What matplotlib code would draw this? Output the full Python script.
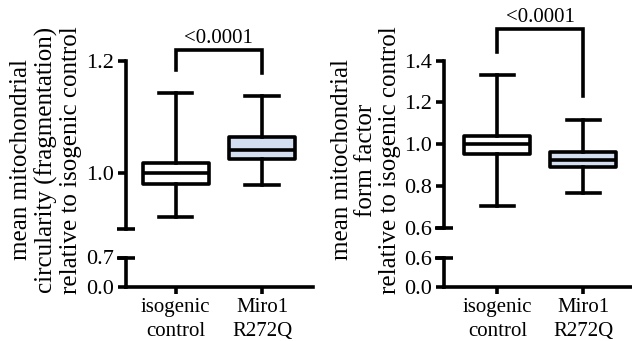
import matplotlib
matplotlib.use("Agg")
import matplotlib.pyplot as plt

plt.rcParams['font.family'] = ['Liberation Serif', 'DejaVu Serif']

# ---------------- data ----------------
categories = ["isogenic\ncontrol", "Miro1\nR272Q"]
positions = [1, 2]
box_colors = ["white", "#d3def0"]
p_text = "<0.0001"

# Panel A: mean mitochondrial circularity
circ_whislo = [0.922, 0.978]
circ_q1 = [0.981, 1.025]
circ_med = [1.000, 1.041]
circ_q3 = [1.018, 1.065]
circ_whishi = [1.142, 1.137]
circ_bracket = [1.184, 1.219, 1.219, 1.179]
circ_top_ticks = [1.0, 1.2]
circ_top_lim = [0.9, 1.2]
circ_bot_ticks = [0.0, 0.7]
circ_bot_lim = [0.0, 0.7]
circ_ylabel = "mean mitochondrial\ncircularity (fragmentation)\nrelative to isogenic control"

# Panel B: mean mitochondrial form factor
ff_whislo = [0.706, 0.766]
ff_q1 = [0.953, 0.892]
ff_med = [1.000, 0.927]
ff_q3 = [1.038, 0.963]
ff_whishi = [1.333, 1.115]
ff_bracket = [1.442, 1.551, 1.551, 1.229]
ff_top_ticks = [0.6, 0.8, 1.0, 1.2, 1.4]
ff_top_lim = [0.6, 1.4]
ff_bot_ticks = [0.0, 0.6]
ff_bot_lim = [0.0, 0.6]
ff_ylabel = "mean mitochondrial\nform factor\nrelative to isogenic control"

W, H = 632, 341
DPI = 100
fig = plt.figure(figsize=(W / DPI, H / DPI), dpi=DPI)

LW = 2.6
FS = 15
TFS = 16


def px_axes(x0, x1, ytop, ybot):
    return fig.add_axes([x0 / W, 1 - ybot / H, (x1 - x0) / W, (ybot - ytop) / H])


def panel(x0, x1, top_y, brk1, brk2, bot_y, xlim,
          whislo, q1, med, q3, whishi, bracket,
          top_ticks, top_lim, bot_ticks, bot_lim, ylabel, ylabel_x):
    ax_t = px_axes(x0, x1, top_y, brk1)
    ax_b = px_axes(x0, x1, brk2, bot_y)
    for ax in (ax_t, ax_b):
        ax.set_facecolor('none')
        ax.set_xlim(*xlim)
        for s in ('top', 'right'):
            ax.spines[s].set_visible(False)
        ax.spines['left'].set_linewidth(LW)
        ax.spines['bottom'].set_linewidth(LW)
        ax.tick_params(axis='both', width=LW, length=6, pad=2, labelsize=TFS, color='k')
    ax_t.spines['bottom'].set_visible(False)
    ax_t.tick_params(axis='x', bottom=False, labelbottom=False)

    ax_t.set_ylim(*top_lim)
    ax_t.set_yticks(top_ticks)
    ax_t.set_yticklabels([f"{v:.1f}" for v in top_ticks])
    ax_b.set_ylim(*bot_lim)
    ax_b.set_yticks(bot_ticks)
    ax_b.set_yticklabels([f"{v:.1f}" for v in bot_ticks])
    ax_b.set_xticks(positions)
    ax_b.set_xticklabels(categories, fontsize=FS, linespacing=1.35)
    ax_b.tick_params(axis='x', length=5, pad=3)

    # break bars
    ax_t.plot([0], [top_lim[0]], transform=ax_t.get_yaxis_transform(), marker='_',
              ms=13, mew=LW, color='k', clip_on=False)
    ax_b.plot([0], [bot_lim[1]], transform=ax_b.get_yaxis_transform(), marker='_',
              ms=13, mew=LW, color='k', clip_on=False)

    stats = []
    for i in range(len(positions)):
        stats.append(dict(whislo=whislo[i], q1=q1[i], med=med[i], q3=q3[i],
                          whishi=whishi[i], fliers=[], label=''))
    bp = ax_t.bxp(stats, positions=positions, widths=0.77, capwidths=0.385,
                  patch_artist=True, showfliers=False,
                  boxprops=dict(linewidth=LW, edgecolor='k', joinstyle='round'),
                  medianprops=dict(linewidth=LW, color='k'),
                  whiskerprops=dict(linewidth=LW, color='k'),
                  capprops=dict(linewidth=LW, color='k'))
    for patch, c in zip(bp['boxes'], box_colors):
        patch.set_facecolor(c)
    for art in bp['boxes'] + bp['medians'] + bp['whiskers'] + bp['caps']:
        art.set_clip_on(False)
    ax_t.set_xticks([])

    ax_t.plot([positions[0], positions[0], positions[1], positions[1]], bracket,
              color='k', lw=LW, clip_on=False, solid_joinstyle='miter')
    ax_t.annotate(p_text, xy=(sum(positions) / 2, bracket[1]), xytext=(0, 5),
                  textcoords='offset points', ha='center', va='baseline',
                  fontsize=FS, annotation_clip=False)

    fig.text(ylabel_x / W, 1 - 160 / H, ylabel, rotation=90, ha='center', va='center',
             multialignment='center', fontsize=18, linespacing=1.12)


panel(125.5, 313, 61, 229, 257.5, 287, (0.418, 2.59),
      circ_whislo, circ_q1, circ_med, circ_q3, circ_whishi, circ_bracket,
      circ_top_ticks, circ_top_lim, circ_bot_ticks, circ_bot_lim, circ_ylabel, 46)

panel(443.5, 632, 60.5, 228, 258, 287, (0.374, 2.566),
      ff_whislo, ff_q1, ff_med, ff_q3, ff_whishi, ff_bracket,
      ff_top_ticks, ff_top_lim, ff_bot_ticks, ff_bot_lim, ff_ylabel, 366)

fig.savefig("out.png", dpi=DPI, facecolor='white')
